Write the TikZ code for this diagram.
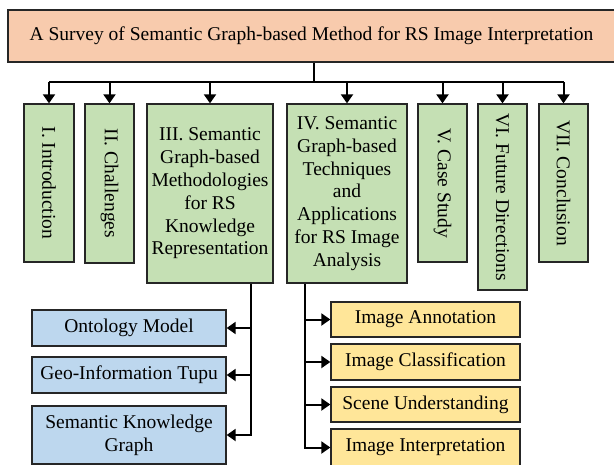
\documentclass[tikz,border=0pt]{standalone}
\usepackage{fontspec}
\setmainfont{Liberation Serif}
\usetikzlibrary{arrows.meta}
\definecolor{peach}{HTML}{F8CBAD}
\definecolor{greenbox}{HTML}{C5E0B4}
\definecolor{bluebox}{HTML}{BDD7EE}
\definecolor{yellowbox}{HTML}{FFE699}
\begin{document}
\begin{tikzpicture}[x=1pt,y=-1pt,
  box/.style={draw=black!85, line width=1.3pt, inner sep=0pt, align=center,
    font=\fontsize{19.5}{22.8}\selectfont},
  sec/.style={box, fill=greenbox},
  kb/.style={box, fill=bluebox, minimum width=194pt},
  ap/.style={box, fill=yellowbox, minimum width=189pt},
  link/.style={line width=2pt, draw=black},
  arr/.style={link, -{Triangle[length=9pt,width=12pt]}}]
\useasboundingbox (0,0) rectangle (614,464);
% title
\node[box, fill=peach, minimum width=607pt, minimum height=52pt] (title) at (311.5,36)
  {\raisebox{-1.5pt}{A Survey of Semantic Graph-based Method for RS Image Interpretation}};
% sections
\node[sec, minimum width=50pt, minimum height=158pt] (s1) at (49,183) {\rotatebox{-90}{I. Introduction}};
\node[sec, minimum width=49pt, minimum height=159pt] (s2) at (109.5,183.5) {\rotatebox{-90}{II. Challenges}};
\node[sec, minimum width=126pt, minimum height=179pt] (s3) at (210,193.5)
  {III. Semantic\\Graph-based\\Methodologies\\for RS\\Knowledge\\Representation};
\node[sec, minimum width=120pt, minimum height=179pt] (s4) at (347,193.5)
  {IV. Semantic\\Graph-based\\Techniques\\and\\Applications\\for RS Image\\Analysis};
\node[sec, minimum width=49pt, minimum height=158pt] (s5) at (442.5,183) {\rotatebox{-90}{V. Case Study}};
\node[sec, minimum width=49pt, minimum height=186pt] (s6) at (502.5,197) {\rotatebox{-90}{VI. Future Directions}};
\node[sec, minimum width=49pt, minimum height=158pt] (s7) at (563.5,183) {\rotatebox{-90}{VII. Conclusion}};
% knowledge representation
\node[kb, minimum height=36pt] (onto) at (129,328) {Ontology Model};
\node[kb, minimum height=36pt] (geo) at (129,375) {Geo-Information Tupu};
\node[kb, minimum height=58pt] (skg) at (129,435) {Semantic Knowledge\\Graph};
% applications
\node[ap, minimum height=35pt] (ann) at (425.5,319.5) {Image Annotation};
\node[ap, minimum height=36pt] (cls) at (425.5,362) {Image Classification};
\node[ap, minimum height=35pt] (scn) at (425.5,404.5) {Scene Understanding};
\node[ap, minimum height=37pt] (itp) at (425.5,447.5) {Image Interpretation};
% top connectors
\coordinate (j) at (314,82);
\draw[link] (title.south -| j) -- (j);
\draw[link] (s1.north |- j) -- (s7.north |- j);
\foreach \s in {s1,s2,s3,s4,s5,s6,s7}
  \draw[arr] (\s.north |- j) -- (\s.north);
% III branches
\coordinate (t3) at ([xshift=41pt]s3.south);
\draw[arr] (t3) |- (skg.east);
\draw[arr] (t3 |- onto.east) -- (onto.east);
\draw[arr] (t3 |- geo.east) -- (geo.east);
% IV branches
\coordinate (t4) at ([xshift=-42pt]s4.south);
\draw[arr] (t4) |- (itp.west);
\draw[arr] (t4 |- ann.west) -- (ann.west);
\draw[arr] (t4 |- cls.west) -- (cls.west);
\draw[arr] (t4 |- scn.west) -- (scn.west);
\end{tikzpicture}
\end{document}
